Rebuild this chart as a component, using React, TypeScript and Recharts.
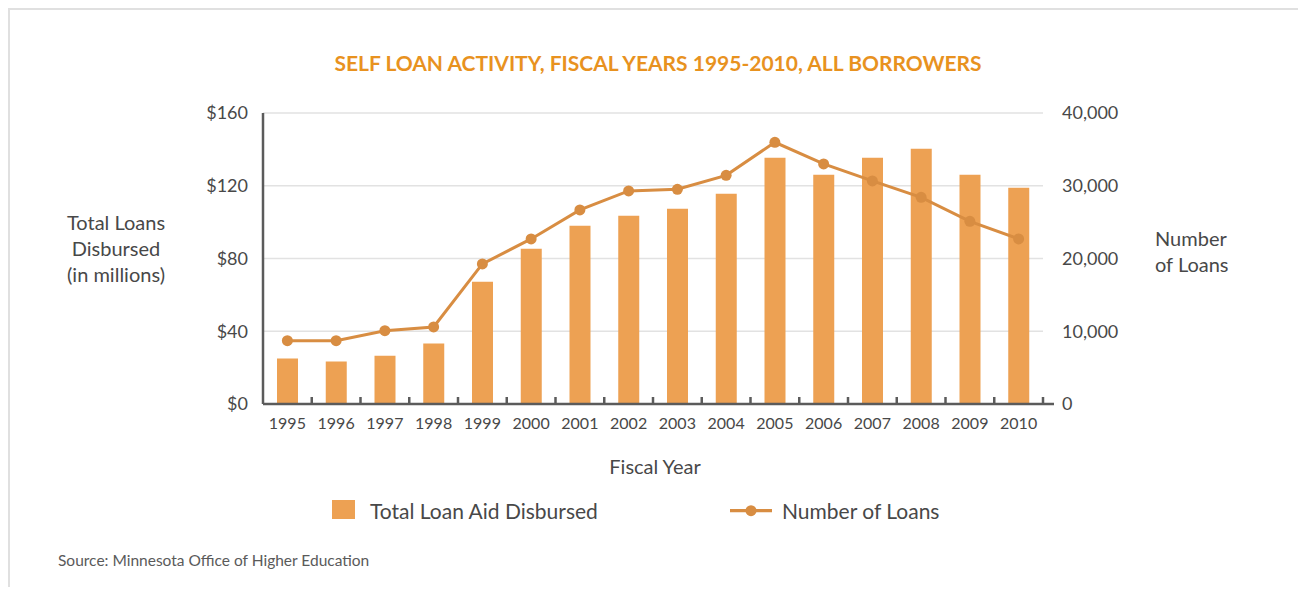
import React from 'react';
import { ComposedChart, Bar, Line, XAxis, YAxis, CartesianGrid, Legend } from 'recharts';

// ---- data ----
const years = ['1995', '1996', '1997', '1998', '1999', '2000', '2001', '2002', '2003', '2004', '2005', '2006', '2007', '2008', '2009', '2010'];
const loanAidMillions = [25, 23.3, 26.5, 33.2, 67.2, 85.4, 98, 103.5, 107.4, 115.6, 135.4, 126, 135.4, 140.4, 126, 118.9];
const numberOfLoans = [8700, 8700, 10080, 10590, 19250, 22690, 26680, 29290, 29510, 31430, 35970, 33000, 30660, 28410, 25110, 22690];
const leftTicks = [0, 40, 80, 120, 160];
const rightTicks = [0, 10000, 20000, 30000, 40000];

const data = years.map((y, i) => ({ year: y, aid: loanAidMillions[i], loans: numberOfLoans[i] }));

// ---- style ----
const FONT = 'Lato, "Open Sans", sans-serif';
const W_TEXT = 400;
const BAR = '#EDA153';
const LINE = '#D88D42';
const AXIS = '#5b5b5b';
const TEXT = '#484848';
const TITLE = '#E8921F';

const W = 1290;
const H = 577;
const M = { top: 103, right: 157, bottom: 153, left: 153 };
const YW = 100;
const plotW = W - M.left - M.right - 2 * YW;
const half = plotW / years.length / 2;

function XTick(props: any) {
  const { x, y, payload, index } = props;
  const last = index === years.length - 1;
  return (
    <g>
      <line x1={x + half} y1={y} x2={x + half} y2={y - 7} stroke={AXIS} strokeWidth={2.5} />
      {last && <line x1={x + half} y1={y} x2={x + half + 11} y2={y} stroke={AXIS} strokeWidth={2.5} />}
      <text x={x} y={y + 24.5} textAnchor="middle" fontSize={16} fontFamily={FONT} fontWeight={W_TEXT} fill={TEXT}>
        {payload.value}
      </text>
    </g>
  );
}

function Txt(props: { x: number; baseline: number; size: number; anchor?: string; weight?: number; color?: string; children: any }) {
  const { x, baseline, size, anchor = 'start', weight = W_TEXT, color = TEXT, children } = props;
  const top = baseline - 0.887 * size;
  const base: React.CSSProperties = {
    position: 'absolute',
    top,
    fontSize: size,
    lineHeight: `${size}px`,
    fontWeight: weight,
    color,
    whiteSpace: 'nowrap',
    fontFamily: FONT,
  };
  if (anchor === 'middle') {
    return <div style={{ ...base, left: x - 600, width: 1200, textAlign: 'center' }}>{children}</div>;
  }
  return <div style={{ ...base, left: x }}>{children}</div>;
}

const legendPos: Record<string, { icon: number; text: number }> = {
  aid: { icon: 322, text: 360 },
  loans: { icon: 720, text: 772 },
};

function renderLegend(props: any) {
  const payload = props.payload || [];
  return (
    <div style={{ position: 'relative', width: W, height: H }}>
      {payload.map((p: any) => {
        const pos = legendPos[p.dataKey] || { icon: 0, text: 30 };
        const isBar = p.dataKey === 'aid';
        return (
          <React.Fragment key={p.dataKey}>
            {isBar ? (
              <div style={{ position: 'absolute', left: pos.icon, top: 490, width: 23, height: 19, background: p.color }} />
            ) : (
              <svg style={{ position: 'absolute', left: pos.icon, top: 490 }} width={42} height={22}>
                <line x1={0} y1={10.7} x2={42} y2={10.7} stroke={p.color} strokeWidth={3.2} />
                <circle cx={21} cy={10.7} r={5.5} fill={p.color} />
              </svg>
            )}
            <Txt x={pos.text} baseline={508.3} size={21}>{p.value}</Txt>
          </React.Fragment>
        );
      })}
    </div>
  );
}

export default function App() {
  return (
    <div
      style={{
        position: 'relative',
        width: W,
        height: H,
        borderTop: '2px solid #e0e0e0',
        borderLeft: '2px solid #e0e0e0',
        borderRight: '2px solid #e0e0e0',
        fontFamily: FONT,
        background: '#fff',
      }}
    >
      <ComposedChart width={W} height={H} data={data} margin={M}>
        <CartesianGrid yAxisId="left" vertical={false} stroke="#e2e2e2" strokeWidth={1.5} />
        <XAxis
          dataKey="year"
          interval={0}
          height={30}
          tickLine={false}
          tickSize={0}
          tickMargin={0}
          axisLine={{ stroke: AXIS, strokeWidth: 2.5 }}
          tick={<XTick />}
        />
        <YAxis
          yAxisId="left"
          domain={[0, 160]}
          ticks={leftTicks}
          tickFormatter={(v: number) => `$${v}`}
          width={YW}
          axisLine={{ stroke: AXIS, strokeWidth: 2.5 }}
          tickLine={false}
          tickSize={0}
          tickMargin={15}
          tick={{ fontSize: 18, fill: TEXT, fontFamily: FONT, fontWeight: W_TEXT }}
        />
        <YAxis
          yAxisId="right"
          orientation="right"
          domain={[0, 40000]}
          ticks={rightTicks}
          tickFormatter={(v: number) => v.toLocaleString('en-US')}
          width={YW}
          axisLine={false}
          tickLine={false}
          tickSize={0}
          tickMargin={19}
          tick={{ fontSize: 18, fill: TEXT, fontFamily: FONT, fontWeight: W_TEXT }}
        />
        <Bar yAxisId="left" dataKey="aid" name="Total Loan Aid Disbursed" fill={BAR} barSize={21} isAnimationActive={false} />
        <Line
          yAxisId="right"
          type="linear"
          dataKey="loans"
          name="Number of Loans"
          stroke={LINE}
          strokeWidth={3}
          dot={{ r: 5.5, fill: LINE, stroke: LINE, strokeWidth: 0 }}
          activeDot={false}
          isAnimationActive={false}
        />
        <Legend
          layout="horizontal"
          verticalAlign="middle"
          align="center"
          content={renderLegend}
          wrapperStyle={{ left: 0, top: 0, width: W, height: H, pointerEvents: 'none' }}
        />
      </ComposedChart>

      <Txt x={648} baseline={61} size={21} weight={700} color={TITLE} anchor="middle">
        SELF LOAN ACTIVITY, FISCAL YEARS 1995-2010, ALL BORROWERS
      </Txt>

      <Txt x={106} baseline={219.5} size={20} anchor="middle">Total Loans</Txt>
      <Txt x={106} baseline={245.5} size={20} anchor="middle">Disbursed</Txt>
      <Txt x={106} baseline={271.5} size={20} anchor="middle">(in millions)</Txt>

      <Txt x={1145} baseline={235.5} size={20}>Number</Txt>
      <Txt x={1145} baseline={261.5} size={20}>of Loans</Txt>

      <Txt x={645} baseline={463.5} size={20} anchor="middle">Fiscal Year</Txt>

      <Txt x={48} baseline={557} size={15.5} color="#5a5a5a">Source: Minnesota Office of Higher Education</Txt>
    </div>
  );
}
